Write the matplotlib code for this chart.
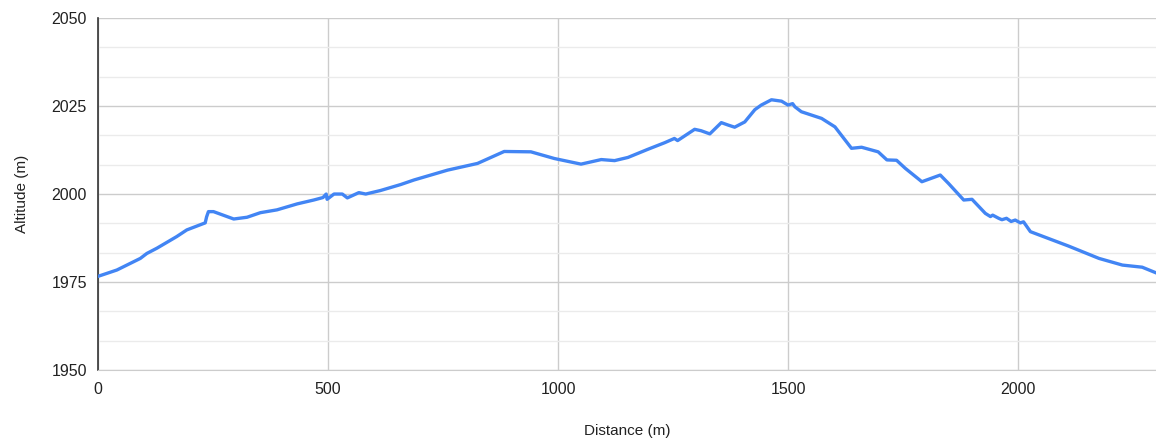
import matplotlib
matplotlib.use('Agg')
import matplotlib.pyplot as plt
import numpy as np
from matplotlib.ticker import MultipleLocator

plt.rcParams['font.family'] = ['Liberation Sans', 'DejaVu Sans']

# elevation profile
distance = [0, 41, 92, 106, 128, 171, 193, 233, 236, 240, 251, 295, 324, 353, 389, 433,
            469, 489, 496, 498, 513, 531, 542, 567, 582, 614, 658, 687, 760, 825, 854,
            883, 941, 992, 1050, 1094, 1123, 1152, 1195, 1232, 1253, 1260, 1297, 1311,
            1330, 1355, 1370, 1384, 1406, 1428, 1442, 1464, 1486, 1500, 1510, 1515,
            1529, 1573, 1602, 1638, 1660, 1696, 1715, 1736, 1755, 1791, 1831, 1849,
            1882, 1900, 1929, 1940, 1945, 1958, 1965, 1975, 1985, 1994, 2005, 2012,
            2027, 2110, 2176, 2227, 2270, 2300]
altitude = [1976.6, 1978.4, 1981.7, 1983.1, 1984.6, 1987.9, 1989.8, 1991.8, 1993.5, 1995.0,
            1995.0, 1992.9, 1993.4, 1994.7, 1995.5, 1997.2, 1998.3, 1999.0, 2000.0,
            1998.5, 2000.0, 2000.0, 1998.9, 2000.4, 2000.0, 2001.0, 2002.7, 2004.0,
            2006.8, 2008.7, 2010.4, 2012.1, 2012.0, 2010.1, 2008.5, 2009.8, 2009.5,
            2010.4, 2012.7, 2014.6, 2015.8, 2015.2, 2018.4, 2018.0, 2017.1, 2020.3,
            2019.6, 2019.0, 2020.5, 2024.0, 2025.3, 2026.8, 2026.4, 2025.3, 2025.7,
            2024.8, 2023.4, 2021.5, 2019.1, 2013.0, 2013.3, 2012.0, 2009.7, 2009.6,
            2007.3, 2003.5, 2005.4, 2003.0, 1998.3, 1998.5, 1994.5, 1993.6, 1994.0,
            1993.1, 1992.7, 1993.1, 1992.2, 1992.6, 1991.8, 1992.1, 1989.3, 1985.2,
            1981.7, 1979.8, 1979.2, 1977.6]

x_ticks = [0, 500, 1000, 1500, 2000]
y_ticks = [1950, 1975, 2000, 2025, 2050]

fig = plt.figure(figsize=(11.56, 4.43), dpi=100)
ax = fig.add_axes([0.0848, 0.165, 0.9152, 0.794])

ax.plot(distance, altitude, color='#4285f4', lw=2.4, zorder=3, solid_joinstyle='round')

ax.set_xlim(0, 2300)
ax.set_ylim(1950, 2050)
ax.set_xticks(x_ticks)
ax.set_yticks(y_ticks)
ax.yaxis.set_minor_locator(MultipleLocator(25 / 3))
ax.grid(which='major', color='#cccccc', lw=1.0, zorder=0)
ax.grid(which='minor', axis='y', color='#ebebeb', lw=1.0, zorder=0)
ax.tick_params(which='both', length=0, labelsize=11.5, colors='#222222', pad=8)
ax.tick_params(axis='x', pad=9)
for side in ['top', 'right']:
    ax.spines[side].set_visible(False)
ax.spines['left'].set_color('#333333')
ax.spines['left'].set_linewidth(1.2)
ax.spines['bottom'].set_color('#cccccc')

ax.set_xlabel('Distance (m)', fontsize=11, color='#222222', labelpad=19)
ax.set_ylabel('Altitude (m)', fontsize=11, color='#222222', labelpad=16)

fig.savefig('out.png', dpi=100, facecolor='white')
